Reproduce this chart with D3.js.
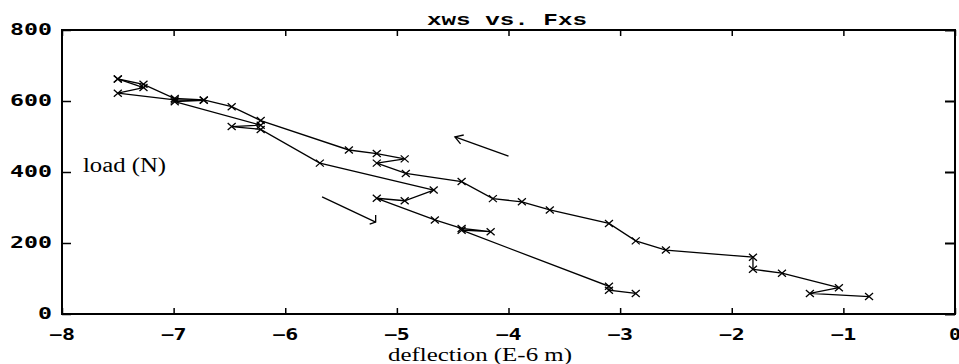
<!DOCTYPE html>
<html>
<head>
<meta charset="utf-8">
<script src="https://cdn.jsdelivr.net/npm/d3@7"></script>
<style>
  body { margin: 0; background: #fff; }
  svg { display: block; }
</style>
</head>
<body>
<svg id="vis"></svg>
<script>
// loading run (goes up and to the left)
var loadX = [-0.77, -1.30, -1.04, -1.55, -1.81, -1.81, -2.59, -2.86, -3.10, -3.63, -3.88, -4.14,
             -4.42, -4.92, -5.18, -4.93, -5.18, -5.43, -6.22, -6.48, -6.73, -6.99, -7.27, -7.50];
var loadY = [49, 58, 74, 115, 126, 160, 180, 206, 255, 293, 316, 325,
             373, 396, 425, 437, 452, 462, 545, 584, 603, 607, 647, 662];

// unloading run (goes back down to the right)
var unloadX = [-7.50, -7.27, -7.50, -6.99, -6.73, -6.99, -6.22, -6.48, -6.22, -5.69, -4.67, -4.93,
               -5.18, -4.66, -4.42, -4.16, -4.42, -3.10, -3.10, -2.86];
var unloadY = [662, 638, 622, 603, 602, 598, 532, 528, 520, 425, 349, 319,
               326, 265, 241, 232, 236, 78, 67, 58];

// direction arrows, [x0, y0, x1, y1] in data units
var arrowUp = [-4.00, 445, -4.48, 499];
var arrowDown = [-5.67, 330, -5.19, 259];

var xTicks = [-8, -7, -6, -5, -4, -3, -2, -1, 0];
var yTicks = [0, 200, 400, 600, 800];

var titleText = "xws vs. Fxs";
var xLabelText = "deflection (E-6 m)";
var yLabelText = "load (N)";

var W = 959, H = 364;
// plot box edges (don't call these top/left, window.top is taken)
var pL = 62, pR = 955, pT = 30, pB = 314;

var svg = d3.select("#vis").attr("width", W).attr("height", H);

var x = d3.scaleLinear().domain([-8, 0]).range([pL, pR]);
var y = d3.scaleLinear().domain([0, 800]).range([pB, pT]);

// frame
svg.append("rect")
    .attr("x", pL).attr("y", pT)
    .attr("width", pR - pL).attr("height", pB - pT)
    .attr("fill", "none").attr("stroke", "#000").attr("stroke-width", 2);

// ticks on all four sides, pointing in
var tickFont = "'DejaVu Sans Mono', monospace";

svg.append("g")
    .attr("transform", "translate(0," + pB + ")")
    .call(d3.axisBottom(x).tickValues(xTicks).tickSize(-6).tickFormat(""))
    .call(g => g.select(".domain").remove())
    .selectAll("line").attr("stroke-width", 1.5);
svg.append("g")
    .attr("transform", "translate(0," + pT + ")")
    .call(d3.axisTop(x).tickValues(xTicks).tickSize(-6).tickFormat(""))
    .call(g => g.select(".domain").remove())
    .selectAll("line").attr("stroke-width", 1.5);
svg.append("g")
    .attr("transform", "translate(" + pL + ",0)")
    .call(d3.axisLeft(y).tickValues(yTicks).tickSize(-9).tickFormat(""))
    .call(g => g.select(".domain").remove())
    .selectAll("line").attr("stroke-width", 1.5);
svg.append("g")
    .attr("transform", "translate(" + pR + ",0)")
    .call(d3.axisRight(y).tickValues(yTicks).tickSize(-10).tickFormat(""))
    .call(g => g.select(".domain").remove())
    .selectAll("line").attr("stroke-width", 2);

// tick labels (wide bold pixel-ish font)
svg.selectAll(".xtl")
    .data(xTicks)
    .enter()
    .append("text")
    .attr("class", "xtl")
    .attr("x", d => x(d))
    .attr("y", 340)
    .attr("text-anchor", "middle")
    .attr("font-family", tickFont)
    .attr("font-weight", "bold")
    .attr("font-size", 15)
    .attr("textLength", d => (d < 0 ? 26 : 12))
    .attr("lengthAdjust", "spacingAndGlyphs")
    .text(d => (d < 0 ? "\u2212" + Math.abs(d) : d));

svg.selectAll(".ytl")
    .data(yTicks)
    .enter()
    .append("text")
    .attr("class", "ytl")
    .attr("x", 52)
    .attr("y", d => y(d) + 5)
    .attr("text-anchor", "end")
    .attr("font-family", tickFont)
    .attr("font-weight", "bold")
    .attr("font-size", 15)
    .attr("textLength", d => String(d).length * 14)
    .attr("lengthAdjust", "spacingAndGlyphs")
    .text(d => d);

// title
svg.append("text")
    .attr("x", 507).attr("y", 25)
    .attr("text-anchor", "middle")
    .attr("font-family", "'Liberation Mono', 'Courier New', monospace")
    .attr("font-weight", "bold")
    .attr("font-size", 17)
    .attr("textLength", 160)
    .attr("lengthAdjust", "spacingAndGlyphs")
    .text(titleText);

// axis labels - the scanned serif is quite wide, so stretch it
svg.append("text")
    .attr("x", 480).attr("y", 361)
    .attr("text-anchor", "middle")
    .attr("font-family", "'Liberation Serif', 'Times New Roman', serif")
    .attr("font-size", 18)
    .attr("textLength", 184)
    .attr("lengthAdjust", "spacingAndGlyphs")
    .text(xLabelText);
svg.append("text")
    .attr("x", 83).attr("y", 172)
    .attr("font-family", "'Liberation Serif', 'Times New Roman', serif")
    .attr("font-size", 20)
    .attr("textLength", 83)
    .attr("lengthAdjust", "spacingAndGlyphs")
    .text(yLabelText);

// lines + x markers
var line = d3.line().x(d => x(d[0])).y(d => y(d[1]));
var loadPts = loadX.map((v, i) => [v, loadY[i]]);
var unloadPts = unloadX.map((v, i) => [v, unloadY[i]]);

[loadPts, unloadPts].forEach(pts => {
    svg.append("path")
        .attr("d", line(pts))
        .attr("fill", "none")
        .attr("stroke", "#000")
        .attr("stroke-width", 1.3);

    svg.selectAll(null)
        .data(pts)
        .enter()
        .append("path")
        .attr("transform", d => "translate(" + x(d[0]) + "," + y(d[1]) + ")")
        .attr("d", "M-4,-3.5L4,3.5M-4,3.5L4,-3.5")
        .attr("stroke", "#000")
        .attr("stroke-width", 1.3);
});

// arrows
function drawArrow(a, hook) {
    var x0 = x(a[0]), y0 = y(a[1]), x1 = x(a[2]), y1 = y(a[3]);
    svg.append("line")
        .attr("x1", x0).attr("y1", y0).attr("x2", x1).attr("y2", y1)
        .attr("stroke", "#000").attr("stroke-width", 1.3);
    var ang = Math.atan2(y1 - y0, x1 - x0);
    var hl = 9;
    var d;
    if (!hook) {
        d = "M" + (x1 - hl * Math.cos(ang - 0.55)) + "," + (y1 - hl * Math.sin(ang - 0.55)) +
            "L" + x1 + "," + y1 +
            "L" + (x1 - hl * Math.cos(ang + 0.55)) + "," + (y1 - hl * Math.sin(ang + 0.55));
    } else {
        // the lower one ends with a little hook
        d = "M" + x1 + "," + (y1 - 7) + "L" + x1 + "," + y1 + "L" + (x1 - 6) + "," + (y1 + 2);
    }
    svg.append("path").attr("d", d).attr("fill", "none")
        .attr("stroke", "#000").attr("stroke-width", 1.3);
}
drawArrow(arrowUp, false);
drawArrow(arrowDown, true);
</script>
</body>
</html>
